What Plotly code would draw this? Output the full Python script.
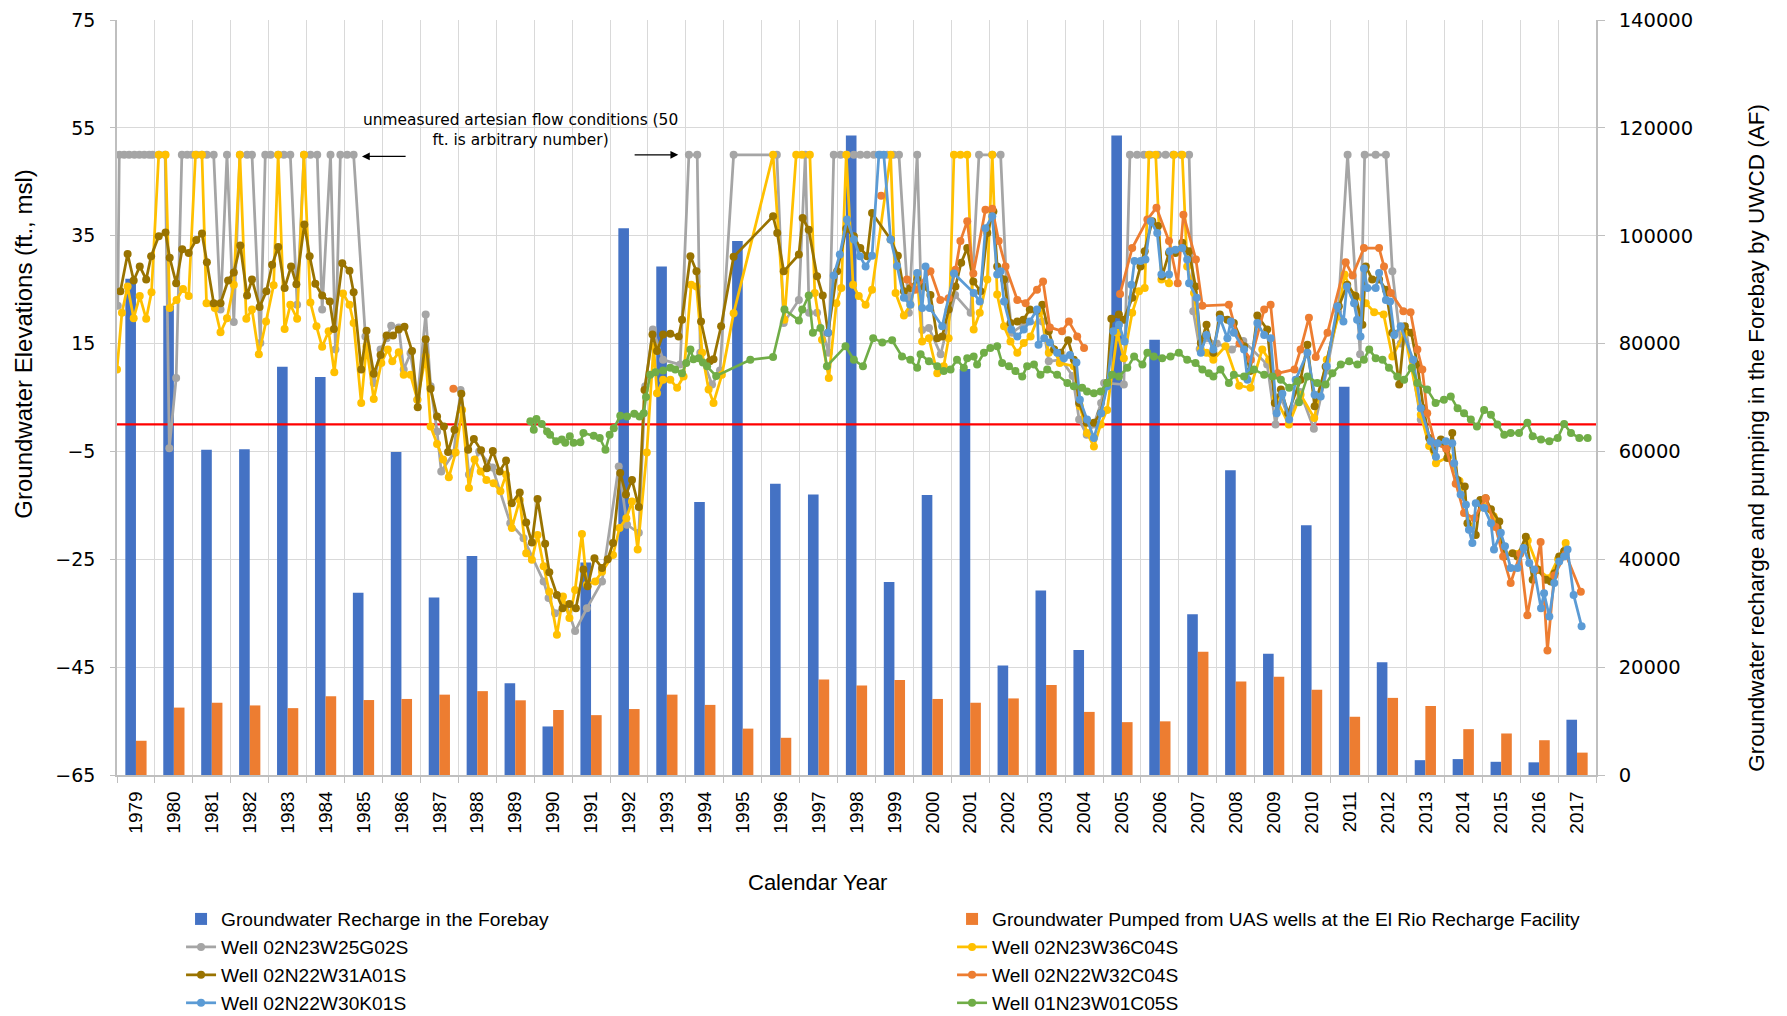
import plotly.graph_objects as go

# ---------------- data ----------------
years = [str(y) for y in range(1979, 2018)]

recharge_af = [92000, 87000, 60300, 60400, 75700, 73800, 33800, 59900, 32900, 40600,
               17000, 9000, 39400, 101400, 94300, 50600, 99000, 54000, 52000, 118600,
               35800, 51900, 75300, 20300, 34200, 23200, 118600, 80700, 29800, 56500,
               22500, 46300, 72000, 20900, 2750, 2950, 2450, 2350, 10250]

pumped_af = [6350, 12500, 13400, 12900, 12400, 14600, 13900, 14100, 14900, 15550,
             13850, 12050, 11100, 12230, 14900, 13000, 8600, 6900, 17700, 16600,
             17600, 14100, 13400, 14200, 16700, 11700, 9800, 9950, 22850, 17350,
             18200, 15800, 10800, 14300, 12800, 8500, 7700, 6450, 4150]

# Well 02N23W25G02S (grey)
w25g02_t = [1979.02, 1979.06, 1979.19, 1979.32, 1979.46, 1979.59, 1979.72, 1979.85, 1979.94, 1980.11,
            1980.27, 1980.38, 1980.56, 1980.71, 1980.85, 1980.98, 1981.10, 1981.24, 1981.37, 1981.55,
            1981.73, 1981.90, 1982.08, 1982.24, 1982.43, 1982.56, 1982.78, 1982.91, 1983.05, 1983.25,
            1983.40, 1983.57, 1983.75, 1983.93, 1984.10, 1984.28, 1984.41, 1984.63, 1984.76, 1984.89,
            1985.07, 1985.24, 1985.55, 1985.77, 1985.95, 1986.11, 1986.23, 1986.43, 1986.56, 1986.74,
            1986.92, 1987.14, 1987.27, 1987.44, 1987.55, 1987.88, 1988.06, 1988.28, 1988.55, 1988.90,
            1989.37, 1989.72, 1990.25, 1990.38, 1990.55, 1990.85, 1991.08, 1991.39, 1991.79, 1992.23,
            1992.45, 1992.76, 1992.93, 1993.13, 1993.40, 1993.85, 1994.08, 1994.30, 1994.38, 1994.69,
            1994.90, 1995.26, 1996.40, 1996.58, 1996.98, 1997.15, 1997.25, 1997.46, 1997.77, 1997.90,
            1998.08, 1998.25, 1998.43, 1998.60, 1998.78, 1998.96, 1999.13, 1999.31, 1999.48, 1999.62,
            1999.88, 2000.10, 2000.23, 2000.41, 2000.72, 2001.10, 2001.51, 2001.73, 2002.08, 2002.30,
            2002.45, 2002.60, 2002.90, 2003.40, 2003.57, 2003.90, 2004.20, 2004.37, 2004.57, 2004.76,
            2004.95, 2005.03, 2005.55, 2005.71, 2005.90, 2006.08, 2006.25, 2006.45, 2006.65, 2006.85,
            2007.05, 2007.27, 2007.38, 2007.55, 2007.73, 2008.00, 2008.40, 2008.70, 2009.33, 2009.55,
            2009.70, 2009.90, 2010.20, 2010.56, 2010.90, 2011.20, 2011.45, 2011.78, 2011.90, 2012.19,
            2012.46, 2012.63, 2012.85, 2013.00, 2013.38]
w25g02_ft = [22, 50, 50, 50, 50, 50, 50, 50, 50, 50,
             50, -4.4, 8.6, 50, 50, 50, 50, 50, 50, 50,
             21.3, 50, 19.0, 50, 50, 50, 15.1, 50, 50, 50,
             50, 50, 22.2, 50, 50, 50, 21.3, 50, 13.9, 50,
             50, 50, 16.3, 7.7, 13.9, 16.0, 18.3, 18.0, 10.2, 13.2,
             4.6, 20.4, 7.1, -1.3, -8.7, -5.3, 6.4, -9.3, -5.0, -8.0,
             -18.3, -21.1, -29.1, -32.2, -35.0, -33.5, -38.3, -34.1, -29.1, -7.8,
             -18.6, -20.1, 7.1, 17.6, 12.0, 11.1, 50, 50, 13.3, 7.4,
             10.0, 50, 50, 18.8, 23.1, 50, 20.7, 20.7, 13.3, 50,
             50, 50, 50, 50, 50, 50, 50, 50, 50, 50,
             20.7, 50, 17.5, 17.9, 13.0, 24.0, 20.7, 50, 50, 50,
             26.9, 17.0, 18.5, 19.1, 11.7, 12.0, 9.0, 0.9, -1.9, 0.0,
             4.0, 7.7, 7.4, 50, 50, 50, 50, 50, 50, 50,
             50, 50, 21.0, 14.0, 16.0, 15.0, 13.9, 15.5, 11.1, 0.0,
             5.0, 1.0, 6.0, -0.8, 10.0, 21.0, 50, 13.0, 50, 50,
             50, 28.4, 15.0, 17.0, 0.9]

# Well 02N23W36C04S (yellow)
w36c04_t = [1979.00, 1979.13, 1979.28, 1979.44, 1979.60, 1979.77, 1979.91, 1980.10, 1980.28, 1980.39,
            1980.57, 1980.74, 1980.89, 1981.07, 1981.24, 1981.36, 1981.58, 1981.73, 1981.90, 1982.08,
            1982.24, 1982.41, 1982.56, 1982.74, 1982.93, 1983.13, 1983.25, 1983.42, 1983.57, 1983.75,
            1983.93, 1984.10, 1984.26, 1984.41, 1984.58, 1984.73, 1984.96, 1985.13, 1985.24, 1985.44,
            1985.58, 1985.77, 1985.97, 1986.14, 1986.26, 1986.43, 1986.56, 1986.74, 1986.92, 1987.14,
            1987.27, 1987.44, 1987.60, 1987.75, 1987.93, 1988.10, 1988.28, 1988.43, 1988.59, 1988.74,
            1988.93, 1989.11, 1989.26, 1989.41, 1989.62, 1989.79, 1989.94, 1990.09, 1990.25, 1990.40,
            1990.60, 1990.76, 1990.93, 1991.08, 1991.26, 1991.39, 1991.61, 1991.79, 1992.08, 1992.25,
            1992.43, 1992.58, 1992.73, 1992.97, 1993.15, 1993.24, 1993.40, 1993.59, 1993.77, 1993.94,
            1994.14, 1994.28, 1994.43, 1994.60, 1994.73, 1994.95, 1995.26, 1996.30, 1996.60, 1996.91,
            1997.06, 1997.27, 1997.40, 1997.59, 1997.77, 1997.97, 1998.10, 1998.23, 1998.41, 1998.56,
            1998.74, 1998.91, 1999.40, 1999.53, 1999.75, 1999.92, 2000.10, 2000.23, 2000.41, 2000.63,
            2000.80, 2000.93, 2001.07, 2001.24, 2001.42, 2001.59, 2001.75, 2001.95, 2002.08, 2002.21,
            2002.39, 2002.56, 2002.74, 2002.91, 2003.09, 2003.35, 2003.57, 2003.71, 2003.86, 2004.23,
            2004.39, 2004.58, 2004.76, 2004.94, 2005.11, 2005.38, 2005.55, 2005.77, 2005.95, 2006.10,
            2006.21, 2006.39, 2006.54, 2006.74, 2006.87, 2007.09, 2007.22, 2007.40, 2007.58, 2007.73,
            2007.91, 2008.23, 2008.59, 2008.89, 2009.20, 2009.38, 2009.55, 2009.90, 2010.21, 2010.57,
            2010.90, 2011.20, 2011.37, 2011.60, 2011.93, 2012.15, 2012.40, 2012.63, 2012.95, 2013.38,
            2013.60, 2013.78, 2014.10, 2014.40, 2014.70, 2015.00, 2015.30, 2015.60, 2015.90, 2016.20,
            2016.50, 2016.75, 2017.00, 2017.20]
w36c04_ft = [10.2, 20.7, 25.6, 19.7, 23.8, 19.6, 24.5, 50, 50, 21.6,
             23.1, 25.1, 23.8, 50, 50, 22.5, 21.6, 17.1, 19.7, 25.9,
             50, 19.6, 21.3, 13.0, 19.1, 25.8, 50, 17.7, 22.2, 19.6,
             50, 22.6, 18.2, 14.4, 17.3, 9.7, 24.3, 22.2, 18.8, 4.0,
             14.5, 4.7, 11.4, 13.9, 11.7, 13.4, 9.2, 9.2, 4.6, 12.6,
             -0.4, -3.6, -6.5, -9.8, -5.2, 2.7, -11.8, -6.5, -8.7, -10.3,
             -10.9, -12.4, -9.3, -19.2, -14.0, -23.9, -25.1, -20.5, -26.3, -31.0,
             -39.0, -31.9, -35.9, -30.7, -20.3, -29.7, -29.1, -27.3, -24.2, -19.2,
             -17.4, -14.3, -23.2, -5.2, 14.5, 5.8, 8.3, 8.3, 6.8, 8.9,
             25.9, 25.6, 13.3, 6.5, 4.0, 9.2, 20.6, 50, 19.4, 50,
             50, 50, 24.4, 15.7, 8.6, 22.5, 25.3, 50, 25.9, 23.8,
             22.2, 25.0, 50, 24.4, 20.2, 22.2, 27.5, 15.4, 16.0, 9.5,
             10.8, 16.0, 50, 50, 50, 17.6, 20.7, 26.9, 50, 24.1,
             18.2, 15.4, 13.3, 15.1, 16.3, 21.0, 13.3, 13.9, 11.4, 10.8,
             3.4, -1.6, -4.1, 0.0, 2.7, 17.0, 12.3, 20.7, 24.7, 25.3,
             50, 50, 26.9, 26.2, 50, 50, 29.3, 24.4, 13.9, 13.3,
             12.0, 14.5, 7.2, 6.8, 13.9, 12.0, 5.0, 0.0, 5.5, 1.2,
             12.0, 20.0, 27.8, 24.0, 22.5, 20.8, 20.4, 12.6, 17.0, 1.8,
             -4.0, -7.2, -6.0, -10.5, -19.0, -15.0, -17.0, -24.0, -24.0, -21.5,
             -27.0, -28.5, -25.0, -22.0]

# Well 02N22W31A01S (dark gold)
w31a01_t = [1979.09, 1979.28, 1979.44, 1979.60, 1979.77, 1979.90, 1980.10, 1980.28, 1980.39, 1980.56,
            1980.72, 1980.89, 1981.09, 1981.24, 1981.37, 1981.55, 1981.73, 1981.93, 1982.08, 1982.25,
            1982.43, 1982.56, 1982.76, 1982.94, 1983.09, 1983.25, 1983.42, 1983.59, 1983.73, 1983.94,
            1984.08, 1984.23, 1984.41, 1984.61, 1984.72, 1984.94, 1985.13, 1985.24, 1985.44, 1985.58,
            1985.77, 1985.95, 1986.11, 1986.28, 1986.43, 1986.58, 1986.78, 1986.93, 1987.14, 1987.27,
            1987.44, 1987.62, 1987.73, 1987.90, 1988.08, 1988.26, 1988.41, 1988.60, 1988.75, 1988.91,
            1989.09, 1989.26, 1989.41, 1989.62, 1989.79, 1989.94, 1990.09, 1990.29, 1990.40, 1990.60,
            1990.75, 1990.93, 1991.10, 1991.30, 1991.41, 1991.59, 1991.79, 1991.94, 1992.08, 1992.27,
            1992.42, 1992.58, 1992.76, 1992.91, 1993.12, 1993.24, 1993.40, 1993.59, 1993.81, 1993.90,
            1994.12, 1994.28, 1994.40, 1994.63, 1994.73, 1994.93, 1995.26, 1996.30, 1996.41, 1996.58,
            1996.98, 1997.08, 1997.24, 1997.46, 1997.61, 1997.75, 1997.99, 1998.23, 1998.43, 1998.60,
            1998.78, 1998.91, 1999.40, 1999.59, 1999.75, 1999.92, 2000.10, 2000.28, 2000.45, 2000.63,
            2000.76, 2000.93, 2001.11, 2001.26, 2001.42, 2001.58, 2001.77, 2001.95, 2002.11, 2002.21,
            2002.39, 2002.56, 2002.74, 2002.90, 2003.07, 2003.24, 2003.40, 2003.57, 2003.71, 2003.88,
            2004.08, 2004.23, 2004.37, 2004.57, 2004.76, 2004.94, 2005.11, 2005.22, 2005.42, 2005.55,
            2005.77, 2005.99, 2006.10, 2006.30, 2006.45, 2006.56, 2006.74, 2006.91, 2007.09, 2007.27,
            2007.44, 2007.58, 2007.73, 2007.91, 2008.08, 2008.28, 2008.45, 2008.72, 2008.88, 2009.07,
            2009.33, 2009.53, 2009.69, 2009.88, 2010.21, 2010.39, 2010.58, 2010.87, 2011.22, 2011.44,
            2011.66, 2011.84, 2011.93, 2012.10, 2012.28, 2012.46, 2012.63, 2012.81, 2012.96, 2013.13,
            2013.29, 2013.45, 2013.60, 2013.73, 2013.91, 2014.08, 2014.21, 2014.35, 2014.54, 2014.61,
            2014.83, 2014.95, 2015.09, 2015.23, 2015.45, 2015.58, 2015.80, 2015.93, 2016.15, 2016.33,
            2016.46, 2016.68, 2016.81, 2016.91, 2017.03, 2017.16]
w31a01_ft = [24.7, 31.6, 26.7, 29.3, 26.9, 31.2, 34.9, 35.6, 30.9, 26.2,
             32.5, 31.8, 34.2, 35.4, 30.1, 22.5, 22.5, 26.7, 28.2, 33.2,
             23.9, 26.9, 21.8, 24.7, 29.6, 32.9, 25.3, 29.3, 26.0, 37.1,
             31.2, 26.1, 23.9, 22.8, 17.7, 29.9, 28.5, 24.5, 10.2, 17.4,
             9.4, 12.9, 16.5, 16.5, 17.6, 18.1, 13.6, 3.2, 15.8, 6.6,
             1.5, -0.4, -5.1, -1.0, 5.7, -4.7, -2.7, -4.8, -8.1, -4.9,
             -8.7, -6.7, -14.6, -12.6, -18.2, -21.9, -13.8, -22.1, -27.4, -31.6,
             -34.1, -33.3, -34.1, -26.9, -30.0, -24.8, -26.6, -25.0, -22.0, -9.0,
             -13.0, -10.3, -15.3, 6.4, 16.7, 13.6, 16.7, 16.8, 16.3, 19.4,
             31.2, 28.4, 19.1, 11.7, 12.1, 18.2, 31.1, 38.6, 35.5, 28.4,
             31.5, 38.3, 36.1, 27.5, 23.9, 17.0, 28.4, 36.3, 34.9, 32.7,
             31.2, 39.2, 34.3, 31.3, 24.7, 25.3, 26.9, 25.6, 24.0, 16.0,
             16.3, 21.3, 25.6, 30.0, 32.7, 26.5, 24.7, 35.5, 39.5, 29.3,
             26.9, 18.8, 19.1, 19.4, 21.3, 21.0, 22.2, 17.3, 13.9, 13.3,
             15.6, 12.0, 4.0, 0.3, 0.3, 2.1, 7.7, 19.6, 20.4, 19.4,
             23.5, 29.3, 32.1, 37.7, 36.8, 27.5, 31.8, 31.8, 33.7, 32.1,
             25.6, 15.1, 18.5, 13.3, 20.4, 19.4, 18.8, 14.5, 9.9, 20.2,
             17.6, 4.0, 6.5, 2.1, 8.3, 14.8, 3.4, 10.7, 21.9, 25.9,
             23.8, 18.5, 29.3, 26.9, 26.9, 25.0, 17.0, 7.4, 18.2, 17.0,
             11.1, 3.0, -2.5, -4.7, -2.8, -6.2, -1.6, -10.3, -11.5, -18.3,
             -20.5, -14.0, -13.7, -15.7, -18.0, -24.5, -23.9, -24.5, -20.8, -28.8,
             -26.9, -28.8, -29.1, -27.6, -24.5, -23.5]

# Well 02N22W32C04S (orange) - None marks gaps in the record
w32c04_t = [1987.87, None, 1999.15, None,
            1999.83, 2000.05, 2000.45, 2000.71, 2000.93, 2001.11, 2001.24, 2001.42, 2001.58, 2001.90,
            2002.08, 2002.25, 2002.43, 2002.74, 2002.96, 2003.26, 2003.42, 2003.60, 2003.92, 2004.10,
            2004.32, 2004.50, None,
            2005.45, 2005.77, 2006.17, 2006.41, 2006.74, 2006.97, 2007.12, 2007.45, 2007.62, 2008.32,
            2008.60, 2008.90, 2009.25, 2009.42, 2009.60, 2010.05, 2010.21, 2010.43, 2010.61, 2010.92,
            2011.40, 2011.58, 2011.88, 2012.28, 2012.41, 2012.59, 2012.92, 2013.11, 2013.29, 2013.42,
            2013.55, 2013.75, 2014.05, 2014.30, 2014.52, 2014.79, 2015.09, 2015.35, 2015.55, 2015.75,
            2016.00, 2016.19, 2016.40, 2016.54, 2016.72, 2016.90, 2017.20, 2017.60]
w32c04_ft = [6.6, None, 42.4, None,
             26.9, 25.0, 28.4, 23.1, 23.4, 28.7, 34.0, 37.7, 28.0, 39.8,
             40.0, 34.0, 29.3, 23.1, 22.5, 25.0, 26.5, 18.0, 17.3, 19.1,
             16.3, 14.2, None,
             24.2, 32.7, 38.0, 40.2, 34.0, 26.2, 38.9, 30.6, 22.0, 22.2,
             15.0, 12.0, 21.3, 22.2, 9.5, 10.2, 13.9, 19.8, 12.5, 17.0,
             30.1, 27.6, 32.7, 32.7, 29.3, 24.4, 21.0, 20.8, 13.9, 10.2,
             2.1, -3.5, -4.5, -11.0, -16.4, -17.4, -13.7, -19.0, -24.5, -29.4,
             -24.0, -35.4, -27.0, -21.8, -41.9, -28.0, -24.0, -31.0]

# Well 02N22W30K01S (light blue)
w30k01_t = [1997.75, 1997.90, 1998.06, 1998.25, 1998.43, 1998.59, 1998.74, 1998.91, 1999.09, 1999.22,
            1999.40, 1999.57, 1999.75, 1999.92, 2000.10, 2000.23, 2000.32, 2000.43, 2000.76, 2001.07,
            2001.59, 2001.75, 2001.90, 2002.08, 2002.21, 2002.30, 2002.39, 2002.58, 2002.74, 2002.91,
            2003.07, 2003.26, 2003.30, 2003.45, 2003.60, 2003.79, 2003.97, 2004.13, 2004.30, 2004.39,
            2004.58, 2004.76, 2004.95, 2005.11, 2005.27, 2005.42, 2005.57, 2005.75, 2005.83, 2005.99,
            2006.12, 2006.26, 2006.43, 2006.54, 2006.74, 2006.76, 2006.91, 2007.09, 2007.22, 2007.27,
            2007.47, 2007.58, 2007.73, 2007.91, 2008.09, 2008.28, 2008.37, 2008.45, 2008.72, 2008.81,
            2009.07, 2009.25, 2009.42, 2009.58, 2009.73, 2009.91, 2010.08, 2010.39, 2010.58, 2010.74,
            2010.90, 2011.18, 2011.34, 2011.43, 2011.62, 2011.70, 2011.79, 2011.88, 2011.97, 2012.19,
            2012.28, 2012.46, 2012.57, 2012.68, 2012.85, 2013.18, 2013.38, 2013.64, 2013.78, 2013.82,
            2014.04, 2014.21, 2014.26, 2014.43, 2014.57, 2014.65, 2014.74, 2014.83, 2015.05, 2015.23,
            2015.31, 2015.49, 2015.60, 2015.75, 2015.93, 2016.09, 2016.24, 2016.37, 2016.55, 2016.63,
            2016.77, 2016.90, 2017.03, 2017.16, 2017.25, 2017.41, 2017.62]
w30k01_ft = [17.0, 27.6, 31.5, 38.0, 34.3, 31.2, 29.3, 31.3, 50, 50,
             34.3, 29.4, 23.5, 22.2, 28.1, 21.6, 29.3, 21.6, 18.2, 28.0,
             24.4, 22.8, 36.4, 38.6, 27.8, 28.4, 22.8, 17.6, 16.3, 17.6,
             19.1, 21.3, 14.8, 16.0, 15.2, 13.3, 12.3, 12.9, 11.5, 4.6,
             0.9, -2.5, 2.1, 7.1, 17.3, 18.5, 15.4, 25.9, 30.3, 30.3,
             30.6, 37.7, 35.5, 27.8, 27.8, 32.1, 32.4, 32.7, 30.6, 26.2,
             23.5, 13.3, 16.6, 13.9, 19.6, 16.0, 19.1, 17.0, 13.9, 8.3,
             18.8, 16.6, 16.0, 2.1, 5.7, 0.9, 8.3, 13.3, 5.5, 5.2,
             10.8, 21.9, 19.1, 25.6, 22.5, 19.4, 16.3, 28.9, 25.3, 25.3,
             28.1, 23.1, 22.8, 16.6, 18.2, 12.0, 3.0, -3.1, -6.0, -3.5,
             -3.1, -3.5, -7.2, -13.0, -14.9, -19.5, -22.0, -14.6, -15.5, -18.3,
             -23.2, -20.1, -22.6, -26.6, -26.6, -22.9, -25.7, -26.9, -34.1, -31.3,
             -35.6, -29.4, -25.4, -24.5, -23.2, -31.6, -37.4]

# Well 01N23W01C05S (green)
w01c05_t = [1989.90, 1989.99, 1990.06, 1990.20, 1990.34, 1990.42, 1990.58, 1990.73, 1990.82, 1990.94,
            1991.04, 1991.22, 1991.30, 1991.57, 1991.73, 1991.88, 1991.99, 1992.10, 1992.27, 1992.45,
            1992.64, 1992.78, 1992.89, 1992.95, 1993.06, 1993.20, 1993.40, 1993.59, 1993.72, 1993.90,
            1994.01, 1994.12, 1994.20, 1994.34, 1994.45, 1994.56, 1994.80, 1995.70, 1996.30, 1996.60,
            1996.98, 1997.07, 1997.24, 1997.35, 1997.55, 1997.72, 1998.21, 1998.43, 1998.67, 1998.94,
            1999.18, 1999.44, 1999.70, 1999.92, 2000.10, 2000.19, 2000.41, 2000.63, 2000.80, 2000.98,
            2001.15, 2001.33, 2001.42, 2001.59, 2001.68, 2001.86, 2002.03, 2002.21, 2002.34, 2002.52,
            2002.69, 2002.87, 2003.00, 2003.18, 2003.35, 2003.53, 2003.79, 2004.06, 2004.23, 2004.45,
            2004.58, 2004.76, 2004.94, 2005.11, 2005.24, 2005.42, 2005.64, 2005.82, 2006.04, 2006.17,
            2006.34, 2006.56, 2006.78, 2007.00, 2007.22, 2007.44, 2007.62, 2007.79, 2007.91, 2008.10,
            2008.32, 2008.45, 2008.72, 2008.98, 2009.25, 2009.47, 2009.69, 2009.91, 2010.13, 2010.17,
            2010.39, 2010.65, 2010.87, 2011.05, 2011.27, 2011.49, 2011.71, 2011.88, 2012.02, 2012.19,
            2012.37, 2012.54, 2012.76, 2012.94, 2013.14, 2013.29, 2013.55, 2013.77, 2013.99, 2014.17,
            2014.35, 2014.52, 2014.70, 2014.86, 2015.05, 2015.23, 2015.40, 2015.58, 2015.75, 2015.97,
            2016.19, 2016.33, 2016.55, 2016.77, 2016.99, 2017.16, 2017.34, 2017.56, 2017.78]
w01c05_ft = [0.6, -1.0, 1.0, 0.1, -1.3, -1.9, -3.1, -2.8, -3.4, -2.2,
             -3.4, -3.3, -1.6, -2.1, -2.5, -4.7, -1.9, -0.7, 1.6, 1.5,
             2.0, 1.5, 2.1, 5.1, 9.2, 9.7, 10.0, 10.5, 10.2, 9.5,
             11.4, 13.9, 12.1, 12.3, 11.5, 10.8, 9.0, 12.0, 12.5, 21.3,
             19.3, 21.3, 23.9, 17.0, 17.9, 10.8, 14.5, 12.0, 10.8, 16.0,
             15.2, 15.6, 12.6, 12.0, 10.5, 13.0, 11.7, 10.8, 9.9, 10.2,
             12.0, 10.5, 12.3, 12.6, 11.1, 13.3, 14.2, 14.5, 11.4, 10.8,
             9.9, 8.9, 10.8, 11.1, 9.2, 10.2, 9.2, 7.7, 7.1, 6.8,
             6.1, 5.8, 6.1, 7.7, 9.2, 8.9, 10.5, 12.6, 11.1, 13.3,
             12.6, 12.3, 12.6, 13.3, 12.0, 11.4, 10.2, 9.5, 8.9, 10.2,
             7.7, 9.2, 8.9, 10.2, 9.2, 8.9, 8.3, 6.8, 8.0, 4.1,
             8.9, 7.7, 7.4, 9.5, 11.1, 11.7, 11.1, 12.0, 13.9, 12.3,
             12.0, 10.5, 8.9, 8.3, 10.5, 7.7, 6.5, 4.0, 4.6, 5.2,
             3.0, 2.1, 0.9, -0.4, 2.7, 1.8, 0.0, -1.9, -1.6, -1.6,
             0.3, -2.2, -2.8, -3.1, -2.5, 0.1, -1.6, -2.5, -2.5]

reference_elevation_ft = 0          # red reference line
artesian_placeholder_ft = 50        # arbitrary value used for unmeasured artesian flow

wells = [
    ("Well 02N23W25G02S", w25g02_t, w25g02_ft, "#A5A5A5", "legend"),
    ("Well 02N23W36C04S", w36c04_t, w36c04_ft, "#FFC000", "legend2"),
    ("Well 02N22W31A01S", w31a01_t, w31a01_ft, "#997300", "legend"),
    ("Well 02N22W32C04S", w32c04_t, w32c04_ft, "#ED7D31", "legend2"),
    ("Well 02N22W30K01S", w30k01_t, w30k01_ft, "#5B9BD5", "legend"),
    ("Well 01N23W01C05S", w01c05_t, w01c05_ft, "#70AD47", "legend2"),
]
for _n, _t, _v, _c, _l in wells:
    assert len(_t) == len(_v), (_n, len(_t), len(_v))

# ---------------- figure ----------------
NUM_FONT = "DejaVu Sans, Verdana, sans-serif"
TXT_FONT = "Liberation Sans, Arial, sans-serif"

fig = go.Figure()

fig.add_trace(go.Bar(x=years, y=recharge_af, name="Groundwater Recharge in the Forebay",
                     marker=dict(color="#4472C4", line=dict(width=0)), legend="legend"))
fig.add_trace(go.Bar(x=years, y=pumped_af,
                     name="Groundwater Pumped from UAS wells at the El Rio Recharge Facility",
                     marker=dict(color="#ED7D31", line=dict(width=0)), legend="legend2"))

first_year = int(years[0])
last_year = int(years[-1]) + 1
fig.add_trace(go.Scatter(x=[first_year, last_year],
                         y=[reference_elevation_ft, reference_elevation_ft],
                         mode="lines", line=dict(color="#FF0000", width=2.2),
                         xaxis="x2", yaxis="y2", showlegend=False, hoverinfo="skip"))

for name, t, v, color, leg in wells:
    is_green = color == "#70AD47"
    fig.add_trace(go.Scatter(
        x=t, y=v, mode="lines+markers", name=name,
        line=dict(color=color, width=2.6 if is_green else 2.75),
        marker=dict(color=color, size=8),
        connectgaps=False, xaxis="x2", yaxis="y2", legend=leg))

axis_grey = "#BFBFBF"
grid_grey = "#D9D9D9"

fig.update_layout(
    width=1787, height=1016,
    # the page body adds an 8px offset; margins compensate so the plot lands where the reference has it
    margin=dict(l=109, r=199, t=12, b=249, autoexpand=False),
    paper_bgcolor="white", plot_bgcolor="white",
    barmode="group", bargap=0.44, bargroupgap=0,
    font=dict(family=TXT_FONT, color="#000000"),
    xaxis=dict(type="category", range=[-0.5, 38.5], tickson="boundaries",
               showgrid=True, gridcolor=grid_grey, gridwidth=1.3,
               ticks="outside", ticklen=6, tickcolor=axis_grey, tickwidth=1.3,
               showline=True, linecolor=axis_grey, linewidth=1.6,
               tickangle=-90, tickfont=dict(family=TXT_FONT, size=19, color="#000000"),
               ticklabelstandoff=7),
    xaxis2=dict(overlaying="x", range=[first_year, last_year], visible=False),
    yaxis=dict(side="right", range=[0, 140000], dtick=20000, tickformat="d",
               showgrid=True, gridcolor=grid_grey, gridwidth=1.3, zeroline=False,
               ticks="outside", ticklen=7, tickcolor=axis_grey, tickwidth=1.3,
               showline=True, linecolor=axis_grey, linewidth=1.6,
               tickfont=dict(family=NUM_FONT, size=19.5, color="#000000"),
               ticklabelstandoff=10),
    yaxis2=dict(overlaying="y", side="left", range=[-65, 75], tick0=-65, dtick=20,
                showgrid=False, zeroline=False,
                ticks="outside", ticklen=5, tickcolor=axis_grey, tickwidth=1.3,
                showline=True, linecolor=axis_grey, linewidth=1.6,
                tickfont=dict(family=NUM_FONT, size=19, color="#000000"),
                ticklabelstandoff=11),
    legend=dict(x=0.0433, y=-0.1655, xanchor="left", yanchor="top", orientation="v",
                font=dict(family=TXT_FONT, size=19.2, color="#000000"),
                bgcolor="rgba(0,0,0,0)", tracegroupgap=0, itemwidth=30),
    legend2=dict(x=0.5646, y=-0.1655, xanchor="left", yanchor="top", orientation="v",
                 font=dict(family=TXT_FONT, size=19.2, color="#000000"),
                 bgcolor="rgba(0,0,0,0)", tracegroupgap=0, itemwidth=30),
    showlegend=True,
)

annotations = [
    dict(text="Groundwater Elevations (ft., msl)", xref="paper", yref="paper",
         x=-0.0629, y=0.5712, textangle=-90, showarrow=False,
         xanchor="center", yanchor="middle", font=dict(family=TXT_FONT, size=24)),
    dict(text="Groundwater recharge and pumping in the Forebay by UWCD (AF)",
         xref="paper", yref="paper", x=1.1089, y=0.4467, textangle=-90, showarrow=False,
         xanchor="center", yanchor="middle", font=dict(family=TXT_FONT, size=22.5)),
    dict(text="Calendar Year", xref="paper", yref="paper", x=0.4733, y=-0.1418,
         showarrow=False, xanchor="center", yanchor="middle",
         font=dict(family=TXT_FONT, size=22)),
    dict(text="unmeasured artesian flow conditions (50<br>ft. is arbitrary number)",
         xref="x2", yref="y2", x=1989.65, y=54.6, showarrow=False,
         xanchor="center", yanchor="middle", align="center",
         font=dict(family=NUM_FONT, size=15.4, color="#000000")),
    dict(text="", xref="x2", yref="y2", x=1985.46, y=artesian_placeholder_ft - 0.3,
         axref="x2", ayref="y2", ax=1986.65, ay=artesian_placeholder_ft - 0.3,
         showarrow=True, arrowhead=2, arrowsize=1.3, arrowwidth=1.2, arrowcolor="#000000"),
    dict(text="", xref="x2", yref="y2", x=1993.80, y=artesian_placeholder_ft,
         axref="x2", ayref="y2", ax=1992.61, ay=artesian_placeholder_ft,
         showarrow=True, arrowhead=2, arrowsize=1.3, arrowwidth=1.2, arrowcolor="#000000"),
]
fig.update_layout(annotations=annotations)

fig.write_html("out.html")
